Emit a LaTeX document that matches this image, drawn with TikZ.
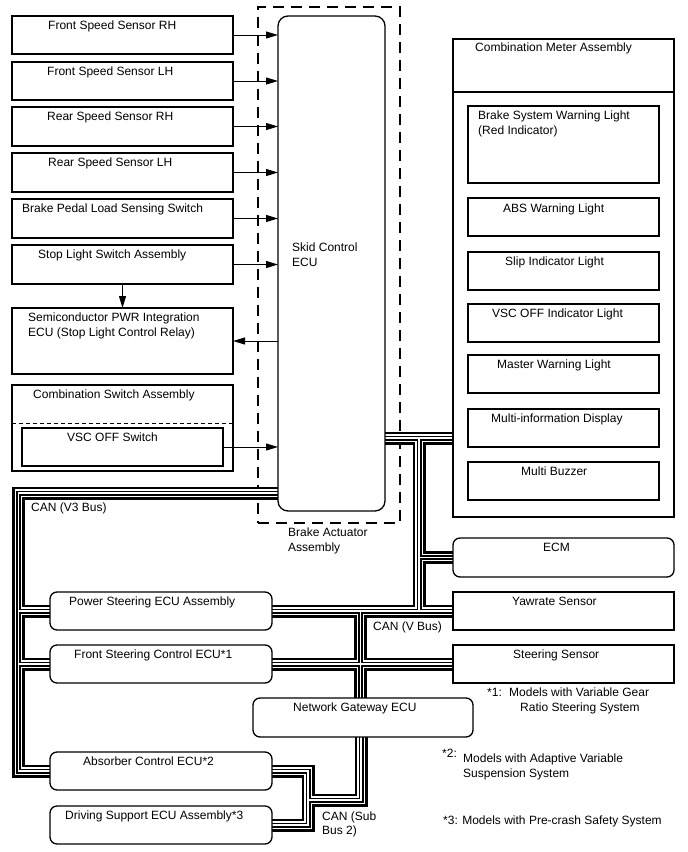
\documentclass[tikz,border=0pt]{standalone}
\usepackage{fontspec}
\setmainfont{Liberation Sans}
\usetikzlibrary{arrows.meta,backgrounds}
\newcommand\mkbox[6]{%
  \pgfmathsetmacro\bxw{#5-#3}\pgfmathsetmacro\bxh{#6-#4}%
  \pgfmathsetmacro\bxx{(#3+#5)/2}\pgfmathsetmacro\bxy{(#4+#6)/2}%
  \node[#2, minimum width=\bxw pt, minimum height=\bxh pt] (#1) at (\bxx,\bxy) {};}
\newcommand\tx[4]{\node[txt] (#1) at (#2,#3) {#4};}
\begin{document}
\begin{tikzpicture}[x=1pt,y=-1pt,
  box/.style={rectangle, draw=black, line width=1.3pt, fill=white, inner sep=0pt, outer sep=0pt},
  rbox/.style={box, rounded corners=7pt},
  ecubox/.style={box, rounded corners=10pt},
  dashbox/.style={rectangle, draw=black, line width=1.3pt, dash pattern=on 11pt off 7pt, inner sep=0pt, outer sep=0pt},
  txt/.style={anchor=base west, inner sep=0pt, font=\fontsize{12}{15}\selectfont},
  arr/.style={line width=1pt, -{Triangle[length=12pt,width=7pt]}},
  divider/.style={line width=1.3pt},
  dashdiv/.style={line width=1pt, dash pattern=on 4pt off 3pt},
]
\useasboundingbox (0,0) rectangle (688,852);
% left column
\mkbox{fsrh}{box}{12}{16}{233}{54}
\mkbox{fslh}{box}{12}{62}{233}{100}
\mkbox{rsrh}{box}{12}{107}{233}{146}
\mkbox{rslh}{box}{12}{153}{233}{192}
\mkbox{bpl}{box}{12}{199}{233}{238}
\mkbox{sls}{box}{12}{245}{233}{284}
\mkbox{spi}{box}{12}{308}{233}{374}
\mkbox{csw}{box}{12}{385}{233}{471}
\draw[dashdiv] (12,423) -- (233,423);
\mkbox{vsc}{box}{22}{428}{223}{466}
% skid control ECU
\mkbox{skid}{ecubox}{278}{16}{385}{511}
% combination meter
\mkbox{meter}{box}{453}{39}{674}{517}
\draw[divider] (453,92) -- (674,92);
\mkbox{bswl}{box}{468}{106}{659}{183}
\mkbox{absw}{box}{468}{198}{659}{236}
\mkbox{slip}{box}{468}{252}{659}{290}
\mkbox{vscl}{box}{468}{304}{659}{342}
\mkbox{mwl}{box}{468}{355}{659}{393}
\mkbox{mid}{box}{468}{409}{659}{447}
\mkbox{mbz}{box}{468}{462}{659}{500}
% right ECUs / sensors
\mkbox{ecm}{rbox}{453}{538}{674}{577}
\mkbox{yaw}{box}{453}{592}{674}{630}
\mkbox{ss}{box}{453}{645}{674}{683}
% bottom ECUs
\mkbox{ps}{rbox}{50}{592}{272}{630}
\mkbox{fs}{rbox}{50}{645}{272}{683}
\mkbox{gw}{rbox}{253}{698}{473}{737}
\mkbox{absorb}{rbox}{50}{752}{272}{790}
\mkbox{ds}{rbox}{50}{806}{272}{844}
% texts
\tx{t1}{48}{29}{Front Speed Sensor RH}
\tx{t2}{47}{75}{Front Speed Sensor LH}
\tx{t3}{47}{120}{Rear Speed Sensor RH}
\tx{t4}{48}{166}{Rear Speed Sensor LH}
\tx{t5}{22}{212}{Brake Pedal Load Sensing Switch}
\tx{t6}{38}{258}{Stop Light Switch Assembly}
\tx{t7a}{28}{321}{Semiconductor PWR Integration}
\tx{t7b}{28}{336}{ECU (Stop Light Control Relay)}
\tx{t8}{33}{398}{Combination Switch Assembly}
\tx{t9}{67}{441}{VSC OFF Switch}
\tx{t10a}{292}{251}{Skid Control}
\tx{t10b}{292}{266}{ECU}
\tx{t11a}{288}{536}{Brake Actuator}
\tx{t11b}{288}{551}{Assembly}
\tx{t12}{475}{51}{Combination Meter Assembly}
\tx{t13a}{478}{119}{Brake System Warning Light}
\tx{t13b}{478}{134}{(Red Indicator)}
\tx{t14}{503}{212}{ABS Warning Light}
\tx{t15}{505}{265}{Slip Indicator Light}
\tx{t16}{492}{317}{VSC OFF Indicator Light}
\tx{t17}{497}{368}{Master Warning Light}
\tx{t18}{491}{422}{Multi-information Display}
\tx{t19}{521}{475}{Multi Buzzer}
\tx{t20}{543}{551}{ECM}
\tx{t21}{512}{605}{Yawrate Sensor}
\tx{t22}{513}{658}{Steering Sensor}
\tx{t23}{69}{605}{Power Steering ECU Assembly}
\tx{t24}{74}{658}{Front Steering Control ECU*1}
\tx{t25}{293}{711}{Network Gateway ECU}
\tx{t26}{83}{765}{Absorber Control ECU*2}
\tx{t27}{65}{819}{Driving Support ECU Assembly*3}
\tx{c1}{31}{511}{CAN (V3 Bus)}
\tx{c2}{373}{630}{CAN (V Bus)}
\tx{c3a}{322}{820}{CAN (Sub}
\tx{c3b}{322}{834}{Bus 2)}
\tx{n1a}{487}{696}{*1:}
\tx{n1b}{509}{696}{Models with Variable Gear}
\tx{n1c}{520}{711}{Ratio Steering System}
\tx{n2a}{442}{757}{*2:}
\tx{n2b}{463}{762}{Models with Adaptive Variable}
\tx{n2c}{463}{777}{Suspension System}
\tx{n3}{443}{824}{*3: Models with Pre-crash Safety System}
% arrows
\draw[arr] (fsrh.east) -- (skid.west |- fsrh.east);
\draw[arr] (fslh.east) -- (skid.west |- fslh.east);
\draw[arr] (rsrh.east) -- (skid.west |- rsrh.east);
\draw[arr] (rslh.east) -- (skid.west |- rslh.east);
\draw[arr] (bpl.east) -- (skid.west |- bpl.east);
\draw[arr] (sls.east) -- (skid.west |- sls.east);
\draw[arr] (skid.west |- spi.east) -- (spi.east);
\draw[arr] (vsc.east) -- (skid.west |- vsc.east);
\draw[arr] (sls.south) -- (spi.north);
% background: dashed assembly and CAN buses
\begin{pgfonlayer}{background}
\mkbox{baa}{dashbox}{258}{7}{400}{523}
\coordinate (v3c) at (18.5,493);
\coordinate (vj) at (419,438);
\coordinate (vgx) at (360.5,611);
\coordinate (sbx) at (308,800);
\coordinate (sgx) at (361,800);
\foreach \w/\c in {13/black,7.6/white,5/black,1.6/white}{
  % V3 bus
  \draw[line width=\w pt, draw=\c, line join=miter] (skid.west |- v3c) -- (v3c) -- (v3c |- absorb.west) -- (absorb.west);
  \draw[line width=\w pt, draw=\c] (v3c |- ps.west) -- (ps.west);
  \draw[line width=\w pt, draw=\c] (v3c |- fs.west) -- (fs.west);
  % V bus
  \draw[line width=\w pt, draw=\c] (skid.east |- vj) -- (meter.west |- vj);
  \draw[line width=\w pt, draw=\c] (vj) -- (vj |- yaw.west);
  \draw[line width=\w pt, draw=\c] (vj |- ecm.west) -- (ecm.west);
  \draw[line width=\w pt, draw=\c] (ps.east) -- (yaw.west);
  \draw[line width=\w pt, draw=\c] (fs.east) -- (ss.west);
  \draw[line width=\w pt, draw=\c] (vgx) -- (vgx |- gw.north);
  % Sub bus 2
  \draw[line width=\w pt, draw=\c, line join=miter] (absorb.east) -- (sbx |- absorb.east) -- (sbx |- ds.east) -- (ds.east);
  \draw[line width=\w pt, draw=\c, line join=miter] (sbx) -- (sgx) -- (sgx |- gw.south);
}
\end{pgfonlayer}
\end{tikzpicture}
\end{document}
